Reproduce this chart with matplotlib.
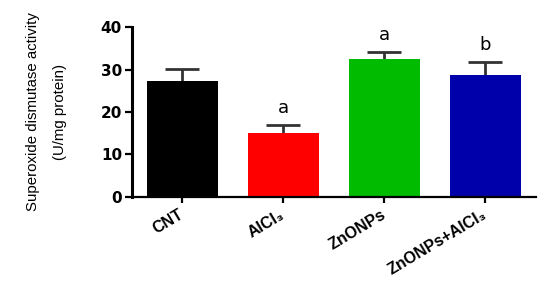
import numpy as np
import matplotlib.pyplot as plt

plt.rcParams['font.family'] = ['Liberation Sans', 'DejaVu Sans']

groups = ['CNT', 'AlCl₃', 'ZnONPs', 'ZnONPs+AlCl₃']
sod_mean = [27.4, 15.1, 32.5, 28.8]
sod_err = [2.7, 1.8, 1.7, 3.0]
letters = ['', 'a', 'a', 'b']
colors = ['#000000', '#ff0000', '#00bb00', '#0000aa']

fig = plt.figure(figsize=(5.48, 2.9), dpi=100)
ax = fig.add_axes([0.2403, 0.3217, 0.7372, 0.5842])

x = np.arange(len(groups))
ax.bar(x, sod_mean, width=0.7, color=colors, zorder=2)

# one-sided error bars (upper only)
tops = np.array(sod_mean) + np.array(sod_err)
ax.vlines(x, sod_mean, tops, color='#333333', lw=2, zorder=1)
ax.hlines(tops, x - 0.166, x + 0.166, color='#333333', lw=2, zorder=1)

for xi, top, lab in zip(x, tops, letters):
    if lab:
        ax.text(xi, top + 2.9, lab, ha='center', va='baseline', fontsize=13,
                family='DejaVu Sans')

ax.set_xlim(-0.5, 3.5)
ax.set_ylim(0, 40)
ax.set_yticks([0, 10, 20, 30, 40])
ax.set_xticks(x)
ax.set_xticklabels(groups, rotation=31, ha='right', va='center',
                   rotation_mode='anchor', fontsize=11.5, fontweight='bold')
for t in ax.get_yticklabels():
    t.set_family('DejaVu Sans')
    t.set_fontweight('bold')
    t.set_fontsize(11)

ax.spines['top'].set_visible(False)
ax.spines['right'].set_visible(False)
ax.spines['left'].set_linewidth(2.2)
ax.spines['bottom'].set_linewidth(1.6)
ax.tick_params(axis='y', length=5, width=1.6, pad=2)
ax.tick_params(axis='x', length=4, width=1.6, pad=8)

# y label drawn as two lines, spaced like the reference
fig.text(33 / 548, 1 - 111.5 / 290, 'Superoxide dismutase activity',
         rotation=90, ha='center', va='center', fontsize=10.8)
fig.text(60 / 548, 1 - 111.5 / 290, '(U/mg protein)',
         rotation=90, ha='center', va='center', fontsize=10.8)

fig.savefig('out.png', dpi=100)
